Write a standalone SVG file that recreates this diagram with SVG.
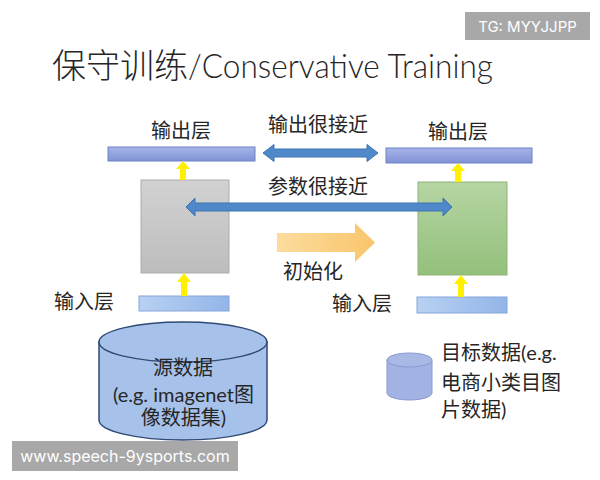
<svg xmlns="http://www.w3.org/2000/svg" width="600" height="480" viewBox="0 0 600 480">
  <defs>
    <linearGradient id="gOut" x1="0" y1="0" x2="0" y2="1">
      <stop offset="0" stop-color="#a6b5e8"/>
      <stop offset="1" stop-color="#8192d6"/>
    </linearGradient>
    <linearGradient id="gIn" x1="0" y1="0" x2="1" y2="0">
      <stop offset="0" stop-color="#b8d1f3"/>
      <stop offset="1" stop-color="#93b5e8"/>
    </linearGradient>
    <linearGradient id="gGray" x1="0" y1="0" x2="0" y2="1">
      <stop offset="0" stop-color="#d2d2d2"/>
      <stop offset="1" stop-color="#bdbdbd"/>
    </linearGradient>
    <linearGradient id="gGreen" x1="0" y1="0" x2="0" y2="1">
      <stop offset="0" stop-color="#b6d5a3"/>
      <stop offset="1" stop-color="#93c07b"/>
    </linearGradient>
    <linearGradient id="gOrange" x1="0" y1="0" x2="1" y2="0">
      <stop offset="0" stop-color="#fcdc9e"/>
      <stop offset="1" stop-color="#f9c56c"/>
    </linearGradient>
  </defs>
  <style>
    .lbl { font-family: "Noto Sans CJK SC", "Noto Sans", sans-serif; font-size: 20px; fill: #262626; }
    .mix { font-family: Lato, "Noto Sans CJK SC", sans-serif; font-size: 20px; fill: #262626; }
    .outbar { fill: url(#gOut); stroke: #6e82c6; stroke-width: 1; }
    .inbar { fill: url(#gIn); stroke: #86a6dc; stroke-width: 1; }
    .blue { fill: #4f89c9; stroke: #3f74b3; stroke-width: 1; }
    .yellow { fill: #fff000; }
    .tag { fill: #a8a8a8; }
    .tagtxt { font-family: Inter, "Liberation Sans", sans-serif; fill: #ffffff; }
  </style>
  <rect width="600" height="480" fill="#ffffff"/>

  <text x="52" y="78" style="font-family:'Noto Sans CJK SC',sans-serif;font-size:34px;font-weight:300;fill:#262626">保守训练<tspan x="188" textLength="305" lengthAdjust="spacingAndGlyphs" style="font-family:Lato,'Noto Sans',sans-serif;font-weight:300">/Conservative Training</tspan></text>

  <g id="out-left">
    <rect class="outbar" x="108" y="147" width="147" height="14"/>
    <text class="lbl" x="181" y="138" text-anchor="middle">输出层</text>
  </g>
  <g id="out-right">
    <rect class="outbar" x="386" y="148" width="146" height="15"/>
    <text class="lbl" x="458" y="139" text-anchor="middle">输出层</text>
  </g>
  <g id="model-source">
    <rect x="141" y="180" width="88" height="93" fill="url(#gGray)" stroke="#ababab" stroke-width="1"/>
  </g>
  <g id="model-target">
    <rect x="418" y="182" width="89" height="93" fill="url(#gGreen)" stroke="#8db37a" stroke-width="1"/>
  </g>
  <g id="in-left">
    <rect class="inbar" x="139" y="296" width="90" height="15"/>
    <text class="lbl" x="84" y="309" text-anchor="middle">输入层</text>
  </g>
  <g id="in-right">
    <rect class="inbar" x="417" y="297" width="90" height="16"/>
    <text class="lbl" x="362" y="311" text-anchor="middle">输入层</text>
  </g>

  <g id="source-data">
    <path d="M99,342 V420 A84,20 0 0 0 267,420 V342 Z" fill="#a7c2ea" stroke="#2f4a74" stroke-width="1.5"/>
    <ellipse cx="183" cy="342" rx="84" ry="20" fill="#a7c2ea" stroke="#2f4a74" stroke-width="1.5"/>
    <text class="lbl" x="183" y="375" text-anchor="middle">源数据</text>
    <text class="mix" x="183.5" y="402" text-anchor="middle">(e.g. imagenet图</text>
    <text class="mix" x="183.5" y="425" text-anchor="middle">像数据集)</text>
  </g>

  <g id="target-data">
    <path d="M387,360 V393 A22.5,7 0 0 0 432,393 V360 Z" fill="#a2b3e3" stroke="#8899d2" stroke-width="1"/>
    <ellipse cx="409.5" cy="360" rx="22.5" ry="7" fill="#a9b9e6" stroke="#8899d2" stroke-width="1"/>
    <text class="mix" x="441" y="360">目标数据(e.g.</text>
    <text class="mix" x="441" y="390">电商小类目图</text>
    <text class="mix" x="441" y="417">片数据)</text>
  </g>

  <g id="connectors">
    <polygon class="yellow" points="183,161 190,169 186,169 186,180 180,180 180,169 176,169"/>
    <polygon class="yellow" points="184,273 191,282 187,282 187,296 181,296 181,282 177,282"/>
    <polygon class="yellow" points="458,163 465,171 461,171 461,182 455,182 455,171 451,171"/>
    <polygon class="yellow" points="461,275 468,284 464,284 464,297 458,297 458,284 454,284"/>
    <polygon class="blue" points="263,153 274,144.5 274,149 367,149 367,144.5 378,153 367,161.5 367,157 274,157 274,161.5"/>
    <text class="lbl" x="318" y="132" text-anchor="middle">输出很接近</text>
    <polygon class="blue" points="186,207 195,198 195,203 443,203 443,198 452,207 443,216 443,211 195,211 195,216"/>
    <text class="lbl" x="318" y="194" text-anchor="middle">参数很接近</text>
    <polygon points="277,233 355,233 355,223 375,242.5 355,262 355,252 277,252" fill="url(#gOrange)"/>
    <text class="lbl" x="313" y="279" text-anchor="middle">初始化</text>
  </g>

  <g id="tag-tg">
    <rect class="tag" x="465" y="12" width="125" height="28"/>
    <text class="tagtxt" x="527.5" y="31.5" text-anchor="middle" font-size="15">TG: MYYJJPP</text>
  </g>
  <g id="tag-www">
    <rect class="tag" x="12" y="441" width="226" height="30"/>
    <text class="tagtxt" x="125" y="462" text-anchor="middle" font-size="16">www.speech-9ysports.com</text>
  </g>
</svg>
